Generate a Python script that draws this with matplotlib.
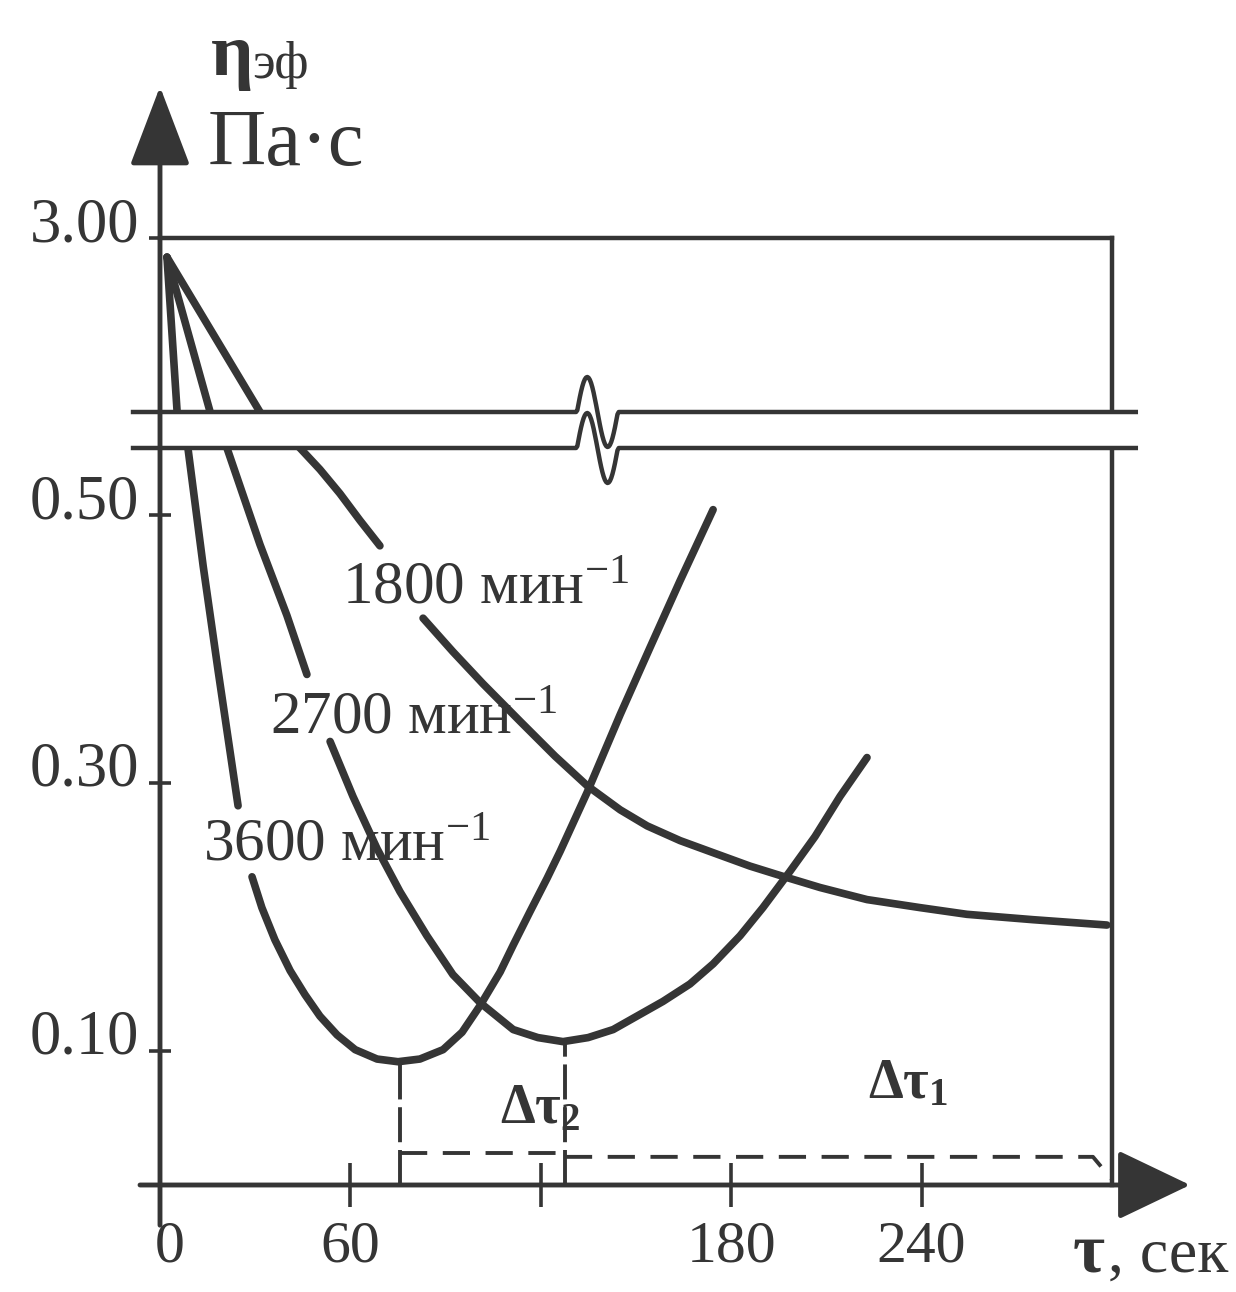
import numpy as np
import matplotlib.pyplot as plt

plt.rcParams['font.family'] = ['Liberation Serif', 'DejaVu Serif']
plt.rcParams['mathtext.fontset'] = 'custom'
plt.rcParams['mathtext.rm'] = 'Liberation Serif'
plt.rcParams['mathtext.it'] = 'Liberation Serif:italic'
plt.rcParams['mathtext.bf'] = 'Liberation Serif:bold'

INK = '#353535'

# --- data: tau, s / eta_eff, Pa*s ---
# 3600 1/min (curve broken where its label sits)
t_3600_a = [2.2, 5.4, 8.8, 13.6, 18.3, 24.6]
eta_3600_a = [2.78, 1.0, 0.550, 0.462, 0.384, 0.283]
t_3600_b = [29.0, 32.1, 36.2, 41.0, 45.7, 50.4, 55.8, 61.5, 68.4, 75.0, 81.9, 89.2,
            95.2, 100.9, 107.2, 111.3, 116.6, 122.0, 126.1, 134.6, 145.0, 154.4,
            163.9, 174.3]
eta_3600_b = [0.230, 0.207, 0.183, 0.160, 0.142, 0.126, 0.112, 0.101, 0.094, 0.092,
              0.094, 0.101, 0.114, 0.134, 0.159, 0.179, 0.204, 0.229, 0.249, 0.293,
              0.351, 0.401, 0.451, 0.504]

# 2700 1/min
t_2700_a = [2.2, 15.8, 21.1, 31.5, 40.0, 46.3]
eta_2700_a = [2.78, 1.0, 0.550, 0.478, 0.425, 0.381]
t_2700_b = [53.6, 60.8, 68.4, 75.6, 84.1, 92.3, 100.9, 111.3, 119.1, 127.0, 134.9,
            142.8, 158.5, 167.0, 174.3, 182.8, 190.0, 198.5, 206.4, 214.3, 222.8]
eta_2700_b = [0.331, 0.290, 0.251, 0.219, 0.186, 0.157, 0.136, 0.116, 0.110, 0.107,
              0.110, 0.116, 0.137, 0.150, 0.165, 0.186, 0.207, 0.234, 0.260, 0.290,
              0.319]

# 1800 1/min
t_1800_a = [2.2, 31.5, 44.1, 50.4, 56.7, 63.0, 69.3]
eta_1800_a = [2.78, 1.0, 0.550, 0.534, 0.516, 0.496, 0.477]
t_1800_b = [82.9, 92.3, 101.8, 113.5, 124.5, 134.6, 145.0, 153.5, 163.9, 174.3,
            185.9, 195.4, 208.0, 222.8, 239.5, 254.3, 275.1, 298.4]
eta_1800_b = [0.423, 0.398, 0.374, 0.346, 0.320, 0.298, 0.280, 0.268, 0.257, 0.248,
              0.238, 0.231, 0.222, 0.213, 0.207, 0.202, 0.198, 0.194]

# minima and the two intervals
t_min = [75.6, 127.6]
eta_min = [0.092, 0.107]
dt2_t = [75.6, 127.6]
dt2_eta = [0.024, 0.024]
dt1_t = [127.6, 294.0, 300.0]
dt1_eta = [0.021, 0.021, 0.004]

x_ticks = [60, 120, 180, 240]
x_labels = ['0', '60', '180', '240']
x_label_pos = [0, 60, 180, 240]
y_ticks = [0.10, 0.30, 0.50, 3.00]
y_labels = ['0.10', '0.30', '0.50', '3.00']

curve_names = ['1800 мин$^{-1}$', '2700 мин$^{-1}$', '3600 мин$^{-1}$']
name_pos = [(57.4, 0.434), (34.7, 0.337), (13.6, 0.242)]

# broken y axis: linear pieces (value -> drawing height)
V_BRK = [-1.0, 0.0, 0.55, 1.0, 3.0, 10.0]
H_BRK = [-1340.0, 0.0, 737.0, 773.0, 947.0, 947.0 + 87 * 7]


def fwd(v):
    return np.interp(v, V_BRK, H_BRK)


def inv(h):
    return np.interp(h, H_BRK, V_BRK)


fig = plt.figure(figsize=(12.36, 12.92), dpi=100)
W, H = 1236, 1292
ax = fig.add_axes([160 / W, (H - 1185) / H, (1112 - 160) / W, (1185 - 238) / H])
ax.set_yscale('function', functions=(fwd, inv))
ax.set_xlim(0, 300)
ax.set_ylim(0, 3.0)

for s in ['left', 'bottom']:
    ax.spines[s].set_visible(False)
for s in ['top', 'right']:
    ax.spines[s].set_linewidth(3.2)
    ax.spines[s].set_color(INK)
    ax.spines[s].set_zorder(1)

ax.set_xticks(x_ticks)
ax.set_yticks(y_ticks)
ax.tick_params(axis='x', direction='inout', length=32, width=2.6, color=INK,
               labelbottom=False)
ax.tick_params(axis='y', direction='inout', length=16, width=2.6, color=INK,
               labelleft=False)
ax.minorticks_off()

lw = 5.5
for tt, ee in [(t_3600_a, eta_3600_a), (t_3600_b, eta_3600_b),
               (t_2700_a, eta_2700_a), (t_2700_b, eta_2700_b),
               (t_1800_a, eta_1800_a), (t_1800_b, eta_1800_b)]:
    ax.plot(tt, ee, color=INK, lw=lw, solid_capstyle='round',
            solid_joinstyle='round', zorder=2)

for name, (tx, ty) in zip(curve_names, name_pos):
    ax.text(tx, ty, name, fontsize=44, color=INK, va='baseline', ha='left', zorder=3)

# dashed guides
for tm, em in zip(t_min, eta_min):
    ax.plot([tm, tm], [0, em], color=INK, lw=2.8, dashes=(9, 2), zorder=2)
ax.plot(dt2_t, dt2_eta, color=INK, lw=2.8, dashes=(7, 4), zorder=2, clip_on=False)
ax.plot(dt1_t, dt1_eta, color=INK, lw=2.8, dashes=(7, 4), zorder=2, clip_on=False)

ax.text(107.2, 0.046, r'Δτ$_{\mathbf{2}}$', fontsize=40, fontweight='bold',
        color=INK, va='baseline', zorder=3)
ax.text(223.1, 0.065, r'Δτ$_{\mathbf{1}}$', fontsize=40, fontweight='bold',
        color=INK, va='baseline', zorder=3)

# axis break: white band between two lines with a wave
tb = np.linspace(-8.5, 307.5, 800)
inside = (tb > 131.4) & (tb < 144.3)
wave = np.where(inside, 35 * np.sin(2 * np.pi * (tb - 131.4) / 12.9), 0.0)
upper = inv(fwd(1.0) + wave)
lower = inv(fwd(0.55) + wave)
band = ax.fill_between(tb, lower, upper, color='white', lw=0, zorder=4)
band.set_clip_on(False)
ax.plot(tb, upper, color=INK, lw=3.2, zorder=5, clip_on=False)
ax.plot(tb, lower, color=INK, lw=3.2, zorder=5, clip_on=False)

# axes with arrows
ax.annotate('', xy=(324.6, 0), xytext=(-6.3, 0), annotation_clip=False, zorder=6,
            arrowprops=dict(arrowstyle='-|>,head_length=4.6,head_width=2.2',
                            lw=3.5, color=INK, shrinkA=0, shrinkB=0))
ax.annotate('', xy=(0, 4.74), xytext=(0, -0.03), annotation_clip=False, zorder=6,
            arrowprops=dict(arrowstyle='-|>,head_length=5.0,head_width=1.9',
                            lw=3.5, color=INK, shrinkA=0, shrinkB=0))

# tick labels
for v, lab in zip(y_ticks, y_labels):
    ax.annotate(lab, xy=(0, v), xytext=(-21, 12), textcoords='offset pixels',
                ha='right', va='center', fontsize=45, color=INK,
                annotation_clip=False)
for t, lab in zip(x_label_pos, x_labels):
    dx = 10 if t == 0 else 0
    ax.annotate(lab, xy=(t, 0), xytext=(dx, -63), textcoords='offset pixels',
                ha='center', va='center', fontsize=43, color=INK,
                annotation_clip=False)

# axis titles
fig.text(211 / W, 1 - 75 / H, 'η', fontsize=54, fontweight='bold', color=INK,
         va='baseline')
fig.text(252 / W, 1 - 78 / H, 'эф', fontsize=38, color=INK, va='baseline')
fig.text(208 / W, 1 - 165 / H, 'Па·с', fontsize=58, color=INK, va='baseline')
fig.text(1073 / W, 1 - 1272 / H, 'τ', fontsize=50, fontweight='bold', color=INK,
         va='baseline')
fig.text(1108 / W, 1 - 1272 / H, ', сек', fontsize=46, color=INK, va='baseline')

fig.savefig('out.png', dpi=100, facecolor='white')
